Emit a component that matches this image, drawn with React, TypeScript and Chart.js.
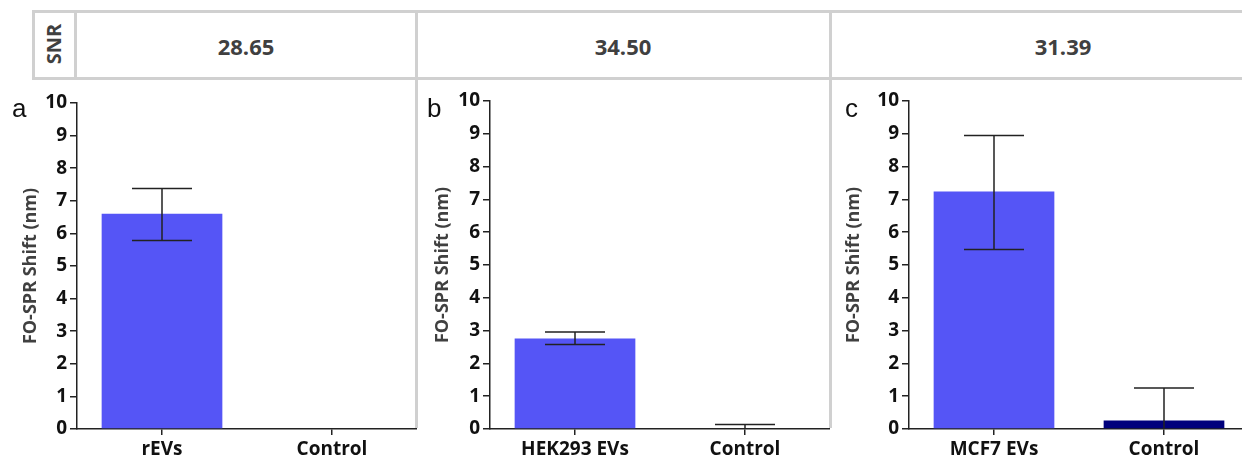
import { useEffect, useRef } from "react";
import { Chart, registerables } from "chart.js";

Chart.register(...registerables);

const snrLabel = "SNR";
const snrValues = ["28.65", "34.50", "31.39"];
const panelLetters = ["a", "b", "c"];
const yTitle = "FO-SPR Shift (nm)";
const yMin = 0;
const yMax = 10;
const yStep = 1;

// panel a
const catsA = ["rEVs", "Control"];
const meanA = [6.6, 0];
const lowA: (number | null)[] = [5.78, null];
const highA: (number | null)[] = [7.38, null];

// panel b
const catsB = ["HEK293 EVs", "Control"];
const meanB = [2.76, 0];
const lowB: (number | null)[] = [2.58, -0.14];
const highB: (number | null)[] = [2.96, 0.14];

// panel c
const catsC = ["MCF7 EVs", "Control"];
const meanC = [7.24, 0.26];
const lowC: (number | null)[] = [5.47, -0.73];
const highC: (number | null)[] = [8.95, 1.25];

const BLUE = "#5555F6";
const NAVY = "#00007C";
const AXIS = "#222222";
const GRAY_LINE = "#D0D0D0";
const FONT = "'Open Sans', 'Noto Sans', sans-serif";

Chart.defaults.font.family = FONT;

const errorBars = {
  id: "errorBars",
  afterDatasetsDraw(chart: any, _args: any, opts: any) {
    const { ctx, chartArea, scales } = chart;
    ctx.save();
    ctx.beginPath();
    ctx.rect(chartArea.left, chartArea.top - 2, chartArea.right - chartArea.left, chartArea.bottom - chartArea.top + 2);
    ctx.clip();
    ctx.strokeStyle = opts.color;
    ctx.lineWidth = opts.width;
    opts.low.forEach((lo: number | null, i: number) => {
      const hi = opts.high[i];
      if (lo == null || hi == null) return;
      const px = scales.x.getPixelForValue(i);
      const yLo = scales.y.getPixelForValue(lo);
      const yHi = scales.y.getPixelForValue(hi);
      ctx.beginPath();
      ctx.moveTo(px, yLo);
      ctx.lineTo(px, yHi);
      ctx.moveTo(px - opts.cap, yHi);
      ctx.lineTo(px + opts.cap, yHi);
      ctx.moveTo(px - opts.cap, yLo);
      ctx.lineTo(px + opts.cap, yLo);
      ctx.stroke();
    });
    ctx.restore();
  },
};

type PanelProps = {
  cats: string[];
  mean: number[];
  low: (number | null)[];
  high: (number | null)[];
  colors: string[];
  left: number;
  width: number;
  axisW: number;
  top: number;
  titlePad: number;
};

function BarPanel({ cats, mean, low, high, colors, left, width, axisW, top, titlePad }: PanelProps) {
  const canvasRef = useRef<HTMLCanvasElement>(null);
  const chartRef = useRef<Chart | null>(null);

  useEffect(() => {
    if (!canvasRef.current) return;
    if (chartRef.current) chartRef.current.destroy();
    chartRef.current = new Chart(canvasRef.current, {
      type: "bar",
      data: {
        labels: cats,
        datasets: [
          {
            data: mean,
            backgroundColor: colors,
            borderWidth: 0,
            barPercentage: 0.71,
            categoryPercentage: 1,
          },
        ],
      },
      plugins: [errorBars],
      options: {
        animation: false,
        responsive: true,
        maintainAspectRatio: false,
        layout: { padding: { top: top - 80, left: 0, right: 0, bottom: 0 } },
        plugins: {
          legend: { display: false },
          tooltip: { enabled: false },
          errorBars: { low, high, cap: 30, color: AXIS, width: 1.5 },
        } as any,
        scales: {
          x: {
            grid: { offset: false, drawOnChartArea: false, tickLength: 6, tickColor: AXIS, lineWidth: 1.5 },
            border: { color: AXIS, width: 1.5 },
            ticks: { color: "#111", font: { size: 19, weight: "bold" }, padding: 3, maxRotation: 0, autoSkip: false },
            afterFit: (s: any) => { s.height = 31; },
          },
          y: {
            min: yMin,
            max: yMax,
            grid: { drawOnChartArea: false, tickLength: 7, tickColor: AXIS, lineWidth: 1.5 },
            border: { color: AXIS, width: 1.5 },
            ticks: { stepSize: yStep, color: "#111", font: { size: 19, weight: "bold" }, padding: 3 },
            title: { display: true, text: yTitle, color: "#404040", font: { size: 18, weight: "bold" }, padding: { top: titlePad, bottom: 0 } },
            afterFit: (s: any) => { s.width = axisW; },
          },
        },
      } as any,
    });
    return () => { if (chartRef.current) chartRef.current.destroy(); chartRef.current = null; };
  }, []);

  return (
    <div style={{ position: "absolute", left, top: 80, width, height: 380 }}>
      <canvas ref={canvasRef} />
    </div>
  );
}

function Line({ x, y, w, h }: { x: number; y: number; w: number; h: number }) {
  return <div style={{ position: "absolute", left: x, top: y, width: w, height: h, background: GRAY_LINE, zIndex: 2 }} />;
}

export default function App() {
  const cellCenters = [246, 623, 1063];
  const letterX = [12, 427, 845];
  return (
    <div style={{ position: "fixed", left: 0, top: 0, width: 1242, height: 460, overflow: "hidden", background: "#fff", fontFamily: FONT }}>
      <Line x={32} y={10} w={1230} h={3} />
      <Line x={32} y={77} w={1230} h={3} />
      <Line x={32} y={10} w={3} h={70} />
      <Line x={74} y={10} w={3} h={70} />
      <Line x={415} y={10} w={3} h={418} />
      <Line x={829} y={10} w={3} h={418} />
      <div style={{ position: "absolute", left: 54, top: 44, transform: "translate(-50%, -50%) rotate(-90deg)", fontSize: 20, fontWeight: 700, color: "#404040", whiteSpace: "nowrap", lineHeight: "22px" }}>
        {snrLabel}
      </div>
      {snrValues.map((v, i) => (
        <div key={v} style={{ position: "absolute", left: cellCenters[i], top: 46, transform: "translate(-50%, -50%)", fontSize: 22, fontWeight: 700, color: "#404040" }}>
          {v}
        </div>
      ))}
      <BarPanel cats={catsA} mean={meanA} low={lowA} high={highA} colors={[BLUE, BLUE]} left={0} width={417} axisW={77} top={103} titlePad={20} />
      <BarPanel cats={catsB} mean={meanB} low={lowB} high={highB} colors={[BLUE, BLUE]} left={418} width={412} axisW={72} top={101} titlePad={14} />
      <BarPanel cats={catsC} mean={meanC} low={lowC} high={highC} colors={[BLUE, NAVY]} left={832} width={417} axisW={77} top={101} titlePad={11} />
      {panelLetters.map((l, i) => (
        <div key={l} style={{ position: "absolute", left: letterX[i], top: 95, fontFamily: "'Liberation Sans', Arial, sans-serif", fontSize: 26, lineHeight: "26px", color: "#111", zIndex: 3 }}>
          {l}
        </div>
      ))}
    </div>
  );
}
